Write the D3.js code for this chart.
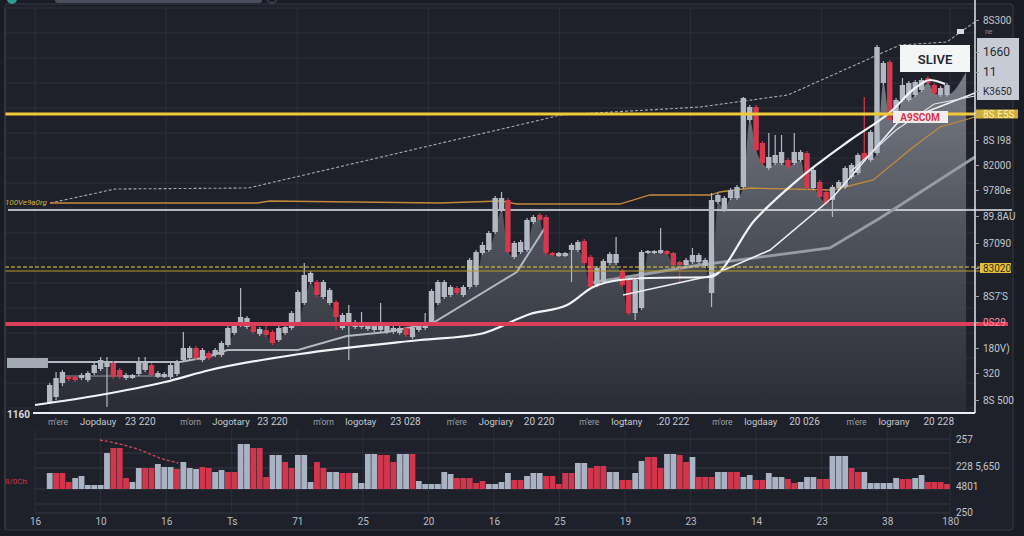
<!DOCTYPE html>
<html><head><meta charset="utf-8">
<script src="https://cdn.jsdelivr.net/npm/d3@7"></script>
<style>html,body{margin:0;padding:0;background:#191c23;overflow:hidden}svg{display:block}text{font-family:Roboto,'Liberation Sans',Arial,sans-serif}</style>
</head><body><svg id="c" width="1024" height="536"></svg>
<script>
// ---------- DATA ----------
const openP = [10,15,29,35,35,34,32,39,43,45, 49,42,34,34,38,42,47,35,35,35, 38,52,54,64,52,59,57,57,67,79,
 87,85,87,78,82,80,72,79,84,90, 109,130,130,115,109,110,84,87,85,85, 83,82,82,80,80,79,84,75,82,84,
 90,109,115,117,124,117,125,127,159,162, 180,202,212,155,160,162,190,197,195,159, 156,156,162,162,171,155,127,130,149,149,
 141,132,99,104,159,159,159,161,159,150, 147,150,150,146,119,210,202,214,214,225, 292,305,269,244,249,249,252,249,252,259,
 224,230,220,212,224,225,235,239,259,252, 259,329,350,292,312,312,317,322,334,327, 317,317];
const highP = [29,40,42,36,36,39,41,50,55,55, 51,44,39,38,55,55,49,41,40,49, 52,80,66,66,64,61,64,71,86,89,
 124,96,89,85,89,82,86,87,101,122, 149,141,132,132,124,112,99,107,92,100, 89,88,109,89,86,86,86,86,88,99,
 123,132,132,127,126,127,154,162,170,181, 216,220,214,171,172,194,197,199,197,160, 160,160,169,172,173,157,146,153,160,175,
 143,134,134,162,162,162,184,162,160,151, 154,164,159,154,219,219,216,224,227,315, 307,307,271,279,277,277,254,279,262,261,
 244,232,222,227,232,246,249,259,315,282, 367,351,352,314,334,331,332,334,336,329, 326,329];
const lowP = [8,12,26,31,30,32,30,37,41,5, 33,33,32,33,36,40,35,34,34,33, 36,50,52,52,50,52,55,55,65,77,
 85,83,78,76,75,67,70,77,82,88, 107,128,115,113,107,82,82,52,83,83, 81,80,80,78,78,77,75,73,80,82,
 88,107,113,115,117,115,123,125,157,160, 178,200,158,153,158,160,188,190,157,156, 155,155,130,160,147,123,125,128,147,147,
 125,97,92,102,158,158,158,157,145,129, 145,148,148,144,105,208,200,212,212,223, 290,260,247,242,247,247,243,247,250,222,
 222,213,207,195,222,223,233,237,250,250, 257,327,290,290,310,310,315,320,327,317, 315,315];
const closeP = [27,34,40,33,32,37,39,47,52,50, 35,35,37,37,50,50,37,39,38,47, 50,64,64,54,62,54,62,69,84,87,
 95,94,80,83,77,69,84,85,99,120, 137,139,117,130,122,95,97,99,90,89, 87,86,86,87,84,84,77,84,86,90,
 121,130,130,125,119,125,152,160,167,179, 214,214,160,169,170,192,195,192,159,157, 159,159,167,170,149,125,144,151,158,158,
 127,99,132,160,161,161,162,158,147,147, 152,157,157,152,212,217,214,222,225,314, 305,262,249,255,257,260,245,260,260,224,
 242,215,209,225,230,244,247,257,252,280, 365,349,292,312,327,329,330,332,329,319, 324,327];
const volume = [16,16,16,7,11,13,4,4,4,36, 41,41,11,7,21,21,21,25,22,22, 20,27,21,20,22,21,17,19,17,17,
 45,45,41,41,12,34,34,27,21,34, 34,7,27,21,17,17,16,16,16,6, 35,35,34,34,27,35,35,35,8,5,
 5,5,17,15,11,11,11,6,8,5, 5,7,16,9,9,13,16,16,13,13, 5,16,16,26,26,21,23,23,17,17,
 9,9,16,28,32,32,21,35,35,34, 27,32,12,12,12,17,17,17,17,12, 14,9,9,16,12,12,10,6,7,12,
 12,10,10,33,33,33,21,17,17,6, 6,6,6,11,10,10,11,14,7,7, 7,5];
const volumeSide = ("grrrgggggg"+"rrrggrrggg"+"rgggrrggrr"+"ggrrrggrrg"+"ggrrggrrgg"+"ggrrrggrgg"+
 "ggggrrrrrg"+"gggrrgggrr"+"rrrggrrrgg"+"rrggrrrggr"+"rgrrrggrrg"+"grrgggrrgg"+"grrgggrrgg"+"ggggrrggrr"+"rr").split("");

// overlay lines: [candle index, price]
const topDashed = [[0.05,209],[10.3,223],[31.2,224],[77.1,292],[80.2,297],[102.2,305],[116.0,317],[133.6,367],[141.0,370],[143.1,380],[145.4,390]];
const orangeMA = [[0.05,209],[32.6,209],[34.6,211],[61.3,209],[70.8,211],[73.4,208],[89.6,208],[94.3,217],[103.8,217],[105.3,220],[110.1,224],[123.1,222],[129.4,232],[135.7,265],[139.9,285],[145.4,295]];
const whiteMA1 = [[-2.3,7],[7.9,17],[18.1,30],[25.2,42],[39.3,58],[58.2,72],[67.6,78],[75.5,98],[81.3,107],[85.4,125],[89.6,132],[94.3,134],[103.8,135],[110.8,192],[117.9,234],[125.8,272],[132.1,300],[136.0,324],[138.3,332],[140.7,328]];
const whiteMA2 = [[90.1,117],[103.8,136],[113.2,162],[123.1,215],[133.2,289],[145.4,319]];
const whiteMA3 = [[125.8,240],[133.0,282],[139.0,308],[145.4,316]];
const grayMA1 = [[-0.27,50],[20.5,50],[24.8,55],[27.9,62],[39.0,62],[46.7,76],[53.0,80],[60.2,89],[73.4,140],[77.8,184]];
const grayMA2 = [[84.9,129],[102.2,147],[122.6,164],[130.5,194],[145.4,255]];
const thinBase = [[2.1,36],[19.4,36]];
const areaTail = [[144.0,340]];
const volTrend = [[7.9,49],[10.3,46],[14.2,39],[17.3,31],[20.2,26]];

// horizontal levels (price)
const levelYellow = 298, levelWhite = 202, levelYellowDash = 145, levelYellowThin = 141, levelRed = 88;

// axis ticks
const rightTickVals = [392,360,340,321,298,272,247,222,196,169,144,116,90,64,39,12];
const rightTickLabels = ["8S300","1660","11","K3650","8S.E5S","8S I98","82000","9780e","89.8AU","87090","83020","8S7'S","0S29","180V)","320","8S 500"];
const xTickVals = [-2.3,8.0,18.3,28.6,38.9,49.2,59.5,69.8,80.1,90.4,100.7,111.0,121.3,131.6,141.5];
const xTickLabels = ["16","10","16","Ts","71","25","20","16","25","19","23","14","23","38","180"];
const dateGroupIdx = [-0.27,20.5,41.4,62.4,83.2,104.1,125.2];
const dateShort = ["m'ere","m'orn","m'orn","m'ere","m'ere","m'ore","m'ere"];
const dateLong = ["Jopdauy","Jogotary","logotay","Jogriary","logtany","logdaay","lograny"];
const dateNum = ["23 220","23 220","23 028","20 220",".20 222","20 026","20 228"];
const volTickVals = [50,23,3,-23];
const volTickLabels = ["257","228 5,650","4801","250"];
const gridPrices = [4,29,54,79,104,129,154,179,204,229,254,279,304,329,354,379,404];
const volGridVals = [50,36,21,0,-15,-24];

// ---------- CHART ----------
const N = openP.length;
const svg = d3.select('#c');
const x = d3.scaleLinear().domain([0, N-1]).range([49.7, 947]);
const y = d3.scaleLinear().domain([0, 404]).range([412, 8]);
const yv = d3.scaleLinear().domain([0, 50]).range([489, 439]);
const GRAY = '#b3b9c3', RED = '#d6384e';

svg.append('rect').attr('width',1024).attr('height',536).attr('fill','#191c23');
svg.append('rect').attr('x',5).attr('y',4).attr('width',1008).attr('height',526).attr('rx',3)
  .attr('fill','#1e2129').attr('stroke','#353943');
// top UI remnants
svg.append('rect').attr('x',55).attr('y',-4).attr('width',207).attr('height',7).attr('rx',3).attr('fill','#4b4f5b');
svg.append('circle').attr('cx',12).attr('cy',-1).attr('r',5).attr('fill','#2f9e8e');
svg.append('circle').attr('cx',272).attr('cy',-2).attr('r',5).attr('fill','none').attr('stroke','#555a66');

// grids
const grid = svg.append('g').attr('stroke','#2c3039').attr('stroke-width',1);
gridPrices.forEach(p => grid.append('line').attr('x1',5).attr('x2',975).attr('y1',y(p)).attr('y2',y(p)));
xTickVals.filter((d,i)=>i%2===0).forEach(d => grid.append('line').attr('x1',x(d)).attr('x2',x(d)).attr('y1',8).attr('y2',412));
const vgrid = svg.append('g').attr('stroke','#353944').attr('stroke-width',1);
volGridVals.forEach(v => vgrid.append('line').attr('x1',35).attr('x2',950).attr('y1',yv(v)).attr('y2',yv(v)));
xTickVals.forEach(d => vgrid.append('line').attr('x1',x(d)).attr('x2',x(d)).attr('y1',430).attr('y2',yv(-24)).attr('stroke','#2c3039'));

// area under candles
const defs = svg.append('defs');
const lg = defs.append('linearGradient').attr('id','ag').attr('gradientUnits','userSpaceOnUse').attr('x1',0).attr('x2',0).attr('y1',40).attr('y2',412);
lg.append('stop').attr('offset',0).attr('stop-color','#8c9098');
lg.append('stop').attr('offset',0.5).attr('stop-color','#555961');
lg.append('stop').attr('offset',1).attr('stop-color','#2a2d35');
const areaPts = d3.range(N).map(i => [i, Math.min(openP[i], closeP[i])]).concat(areaTail);
svg.append('path').datum(areaPts)
  .attr('d', d3.area().x(d=>x(d[0])).y0(y(0)).y1(d=>y(d[1])).curve(d3.curveMonotoneX))
  .attr('fill','url(#ag)').attr('opacity',0.9);

const line = d3.line().x(d=>x(d[0])).y(d=>y(d[1]));

// white level line
svg.append('line').attr('x1',8).attr('x2',1012).attr('y1',y(levelWhite)).attr('y2',y(levelWhite)).attr('stroke','#e6e7ec').attr('stroke-width',1.6);
// top dashed & orange
svg.append('path').datum(topDashed).attr('d',line).attr('fill','none').attr('stroke','#a5a9b1').attr('stroke-width',1.1).attr('stroke-dasharray','3,2');
svg.append('path').datum(orangeMA).attr('d',line).attr('fill','none').attr('stroke','#c38a3c').attr('stroke-width',1.3);
svg.append('path').datum(thinBase).attr('d',line).attr('fill','none').attr('stroke','#8d939c').attr('stroke-width',1);
// left tag
svg.append('rect').attr('x',7).attr('y',y(54)).attr('width',x(-0.27)-7).attr('height',y(44)-y(54)).attr('fill','#a4aab4');
svg.append('path').datum(grayMA1).attr('d',line).attr('fill','none').attr('stroke','#b4b9c1').attr('stroke-width',2);
svg.append('path').datum(grayMA2).attr('d',line).attr('fill','none').attr('stroke','#979ca4').attr('stroke-width',2.8);

// candles
const cg = svg.append('g');
d3.range(N).forEach(i => {
  const up = closeP[i] >= openP[i];
  const col = up ? GRAY : RED;
  cg.append('line').attr('x1',x(i)).attr('x2',x(i)).attr('y1',y(highP[i])).attr('y2',y(lowP[i])).attr('stroke',col).attr('stroke-width',1.2);
  const top = y(Math.max(openP[i],closeP[i])), bot = y(Math.min(openP[i],closeP[i]));
  cg.append('rect').attr('x',x(i)-2.7).attr('y',top).attr('width',5.4).attr('height',Math.max(2,bot-top)).attr('fill',col);
});

// white MAs
svg.append('path').datum(whiteMA1).attr('d',line.curve(d3.curveMonotoneX)).attr('fill','none').attr('stroke','#f2f3f6').attr('stroke-width',2.2);
line.curve(d3.curveLinear);
svg.append('path').datum(whiteMA2).attr('d',line).attr('fill','none').attr('stroke','#eceef2').attr('stroke-width',1.6);
svg.append('path').datum(whiteMA3).attr('d',line).attr('fill','none').attr('stroke','#dfe1e6').attr('stroke-width',1.2);

// level lines
svg.append('line').attr('x1',5).attr('x2',1018).attr('y1',y(levelYellow)).attr('y2',y(levelYellow)).attr('stroke','#f0c838').attr('stroke-width',3);
svg.append('line').attr('x1',5).attr('x2',980).attr('y1',y(levelYellowDash)).attr('y2',y(levelYellowDash)).attr('stroke','#e8d040').attr('stroke-width',1).attr('stroke-dasharray','4,2');
svg.append('line').attr('x1',5).attr('x2',980).attr('y1',y(levelYellowThin)).attr('y2',y(levelYellowThin)).attr('stroke','#b89a30').attr('stroke-width',1);
svg.append('line').attr('x1',5).attr('x2',1008).attr('y1',y(levelRed)).attr('y2',y(levelRed)).attr('stroke','#dc3d58').attr('stroke-width',4);

// axis frame lines
svg.append('line').attr('x1',975).attr('x2',975).attr('y1',0).attr('y2',413).attr('stroke','#e2e4e9').attr('stroke-width',1.5);
svg.append('line').attr('x1',33).attr('x2',975).attr('y1',413).attr('y2',413).attr('stroke','#eceef2').attr('stroke-width',2);
svg.append('line').attr('x1',5).attr('x2',5).attr('y1',8).attr('y2',530).attr('stroke','#3b3f49');

// right light box
svg.append('rect').attr('x',977).attr('y',38).attr('width',42).attr('height',62).attr('fill','#c7cbd3');
svg.append('rect').attr('x',976).attr('y',y(levelYellow)-4.5).attr('width',42).attr('height',9).attr('fill','#cfae38');
svg.append('rect').attr('x',980).attr('y',y(144)-5).attr('width',31).attr('height',10).attr('fill','#e0c240');

// right axis
const ra = svg.append('g').attr('transform','translate(975,0)')
  .call(d3.axisRight(y).tickValues(rightTickVals).tickFormat((d,i)=>rightTickLabels[i]).tickSize(4).tickPadding(4));
ra.select('.domain').remove();
ra.selectAll('line').attr('stroke','#9ba0a8');
ra.selectAll('text').attr('fill',(d,i)=> (i>=1&&i<=3)?'#262930': i===4?'#fff2b8': i===10?'#3a300a': i===12?'#ff8fa2':'#c3c7cf')
  .attr('font-size',(d,i)=> (i===1||i===2)?12:10);
svg.append('text').attr('x',985).attr('y',34).attr('font-size',7).attr('fill','#8a8e96').text('ne');
svg.append('rect').attr('x',957).attr('y',29).attr('width',7).attr('height',5).attr('fill','#d8dae0');

// boxes
svg.append('rect').attr('x',900).attr('y',45).attr('width',70).attr('height',27).attr('fill','#f4f5f7');
svg.append('text').attr('x',935).attr('y',64).attr('text-anchor','middle').attr('font-size',13).attr('font-weight',600).attr('fill','#25282f').text('SLIVE');
svg.append('rect').attr('x',893).attr('y',111).attr('width',55).attr('height',12).attr('fill','#f1ecee');
svg.append('text').attr('x',920).attr('y',121).attr('text-anchor','middle').attr('font-size',10).attr('font-weight',700).attr('fill','#d8334d').text('A9SC0M');

// left labels
svg.append('text').attr('x',5).attr('y',205).attr('font-size',8).attr('font-style','italic').attr('fill','#d9b63c').text('100Ve9a0rg');
svg.append('text').attr('x',7).attr('y',418).attr('font-size',10).attr('font-weight',700).attr('fill','#d6d9e0').text('1160');

// date labels
const dg = svg.append('g');
dateGroupIdx.forEach((d,i) => {
  const gx = x(d);
  dg.append('text').attr('x',gx).attr('y',425).attr('font-size',8.5).attr('fill','#9aa0aa').text(dateShort[i]);
  dg.append('text').attr('x',gx+32).attr('y',425).attr('font-size',9.5).attr('fill','#c4c8d0').text(dateLong[i]);
  dg.append('text').attr('x',gx+77).attr('y',425).attr('font-size',10).attr('fill','#c4c8d0').text(dateNum[i]);
});

// volume bars
const vg = svg.append('g');
d3.range(N).forEach(i => {
  vg.append('rect').attr('x',x(i)-2.9).attr('y',yv(volume[i])).attr('width',5.8).attr('height',yv(0)-yv(volume[i]))
    .attr('fill', volumeSide[i]==='g' ? '#aab3c3' : '#d2364c');
});
svg.append('path').datum(volTrend).attr('d',d3.line().x(d=>x(d[0])).y(d=>yv(d[1])).curve(d3.curveMonotoneX))
  .attr('fill','none').attr('stroke','#d0485a').attr('stroke-width',1.3).attr('stroke-dasharray','3,2');
svg.append('text').attr('x',5).attr('y',484).attr('font-size',8).attr('fill','#c83a4e').text('8/0Ch');
// volume right labels
const va = svg.append('g').attr('transform','translate(952,0)')
  .call(d3.axisRight(yv).tickValues(volTickVals).tickFormat((d,i)=>volTickLabels[i]).tickSize(0).tickPadding(4));
va.select('.domain').remove();
va.selectAll('text').attr('font-size',10).attr('fill','#c3c7cf');

// bottom axis
const ba = svg.append('g').attr('transform','translate(0,514)')
  .call(d3.axisBottom(x).tickValues(xTickVals).tickFormat((d,i)=>xTickLabels[i]).tickSize(0).tickPadding(4));
ba.select('.domain').remove();
ba.selectAll('text').attr('font-size',10).attr('fill','#b9bdc5');
</script></body></html>
